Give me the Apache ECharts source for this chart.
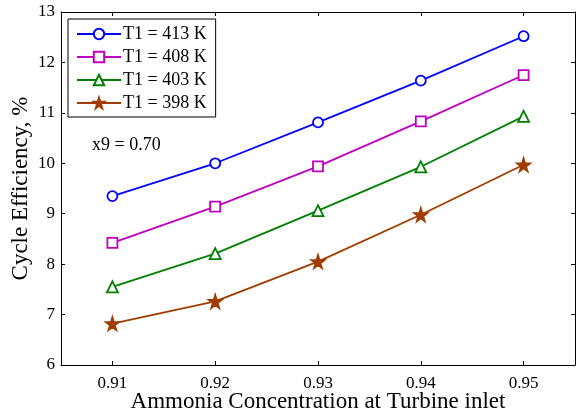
<!DOCTYPE html>
<html>
<head>
<meta charset="utf-8">
<script src="https://cdn.jsdelivr.net/npm/echarts@6/dist/echarts.min.js"></script>
<style>
html, body { margin: 0; padding: 0; background: #fff; }
#chart { width: 578px; height: 418px; }
</style>
</head>
<body>
<div id="chart"></div>
<script>
// ammonia concentration at turbine inlet
var concentrations = [0.91, 0.92, 0.93, 0.94, 0.95];
var xTicks = ['0.91', '0.92', '0.93', '0.94', '0.95'];
var seriesNames = ['T1 = 413 K', 'T1 = 408 K', 'T1 = 403 K', 'T1 = 398 K'];
// cycle efficiency, %
var eff413 = [9.35, 10.0, 10.81, 11.64, 12.52];
var eff408 = [8.42, 9.14, 9.94, 10.83, 11.75];
var eff403 = [7.55, 8.21, 9.06, 9.93, 10.93];
var eff398 = [6.82, 7.26, 8.05, 8.98, 9.97];

var font = '"Liberation Serif", "Times New Roman", serif';
var starPath = 'path://M50,0 L61,35 L98,35 L68,57 L79,91 L50,70 L21,91 L32,57 L2,35 L39,35 Z';

function pairs(values) {
    var out = [];
    for (var i = 0; i < concentrations.length; i++) {
        out.push([concentrations[i], values[i]]);
    }
    return out;
}

function makeSeries(name, values, color, symbol, size, filled) {
    return {
        name: name,
        type: 'line',
        data: pairs(values),
        symbol: symbol,
        symbolSize: size,
        showSymbol: true,
        lineStyle: { color: color, width: 1.8 },
        itemStyle: { color: filled ? color : '#fff', borderColor: color, borderWidth: 1.8 },
        emphasis: { disabled: true },
        z: 3
    };
}

var chart = echarts.init(document.getElementById('chart'));

var axisLine = { show: true, lineStyle: { color: '#000', width: 1 } };
var xTick = { show: true, inside: true, length: 4, customValues: concentrations, lineStyle: { color: '#000' } };
var yTick = { show: true, inside: true, length: 4, lineStyle: { color: '#000' } };

var option = {
    animation: false,
    grid: { left: 61, right: 3, top: 12, bottom: 53, containLabel: false, outerBoundsMode: 'none' },
    legend: {
        orient: 'vertical',
        left: 68,
        top: 19,
        padding: [6, 9, 5, 8],
        itemGap: 5,
        itemWidth: 44,
        itemHeight: 13,
        borderColor: '#000',
        borderWidth: 1,
        backgroundColor: '#fff',
        data: seriesNames,
        textStyle: { fontFamily: font, fontSize: 18, color: '#000', padding: [0, 0, 0, -3] }
    },
    graphic: [{
        type: 'text',
        left: 92,
        top: 136,
        style: { text: 'x9 = 0.70', font: '18px ' + font, fill: '#000' }
    }],
    xAxis: [{
        type: 'value',
        min: 0.905,
        max: 0.955,
        name: 'Ammonia Concentration at Turbine inlet',
        nameLocation: 'middle',
        nameGap: 25,
        nameMoveOverlap: false,
        nameTextStyle: { fontFamily: font, fontSize: 23, color: '#000' },
        axisLine: axisLine,
        axisTick: xTick,
        splitLine: { show: false },
        axisLabel: {
            fontFamily: font, fontSize: 17, color: '#000', margin: 10,
            customValues: concentrations,
            formatter: function (v) {
                var idx = concentrations.indexOf(Math.round(v * 100) / 100);
                return idx >= 0 ? xTicks[idx] : '';
            }
        }
    }, {
        type: 'value',
        position: 'top',
        min: 0.905,
        max: 0.955,
        axisLine: axisLine,
        axisTick: xTick,
        axisLabel: { show: false },
        splitLine: { show: false }
    }],
    yAxis: [{
        type: 'value',
        min: 6,
        max: 13,
        interval: 1,
        name: 'Cycle Efficiency, %',
        nameLocation: 'middle',
        nameGap: 29,
        nameMoveOverlap: false,
        nameTextStyle: { fontFamily: font, fontSize: 23, color: '#000' },
        axisLine: axisLine,
        axisTick: yTick,
        splitLine: { show: false },
        axisLabel: { fontFamily: font, fontSize: 17, color: '#000', margin: 6 }
    }, {
        type: 'value',
        position: 'right',
        min: 6,
        max: 13,
        interval: 1,
        axisLine: axisLine,
        axisTick: yTick,
        axisLabel: { show: false },
        splitLine: { show: false }
    }],
    series: [
        makeSeries(seriesNames[0], eff413, '#0000ff', 'circle', 10, false),
        makeSeries(seriesNames[1], eff408, '#c000c0', 'rect', 10, false),
        makeSeries(seriesNames[2], eff403, '#008000', 'triangle', 11, false),
        makeSeries(seriesNames[3], eff398, '#a03c00', starPath, 13, true)
    ]
};

chart.setOption(option);
</script>
</body>
</html>
